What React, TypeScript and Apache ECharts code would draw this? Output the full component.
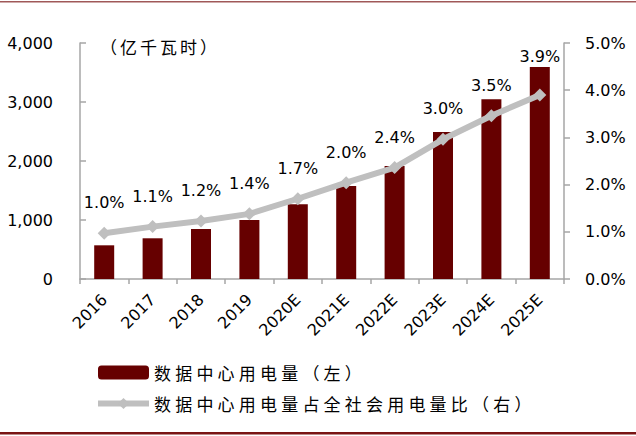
import React, { useEffect, useRef } from "react";
import * as echarts from "echarts";

const categories = ["2016", "2017", "2018", "2019", "2020E", "2021E", "2022E", "2023E", "2024E", "2025E"];
const powerUse = [571, 690, 847, 1000, 1266, 1576, 1915, 2491, 3045, 3593];
const shareOfTotal = [0.97, 1.11, 1.23, 1.38, 1.7, 2.04, 2.36, 2.96, 3.46, 3.9];
const leftTicks = [0, 1000, 2000, 3000, 4000];
const rightTicks = [0, 1, 2, 3, 4, 5];
const barName = "数据中心用电量（左）";
const lineName = "数据中心用电量占全社会用电量比（右）";
const unitLabel = "（亿千瓦时）";

const latin = "DejaVu Sans";
const cjk = "Noto Sans CJK SC";

export default function App() {
  const ref = useRef<HTMLDivElement>(null);
  useEffect(() => {
    const chart = echarts.init(ref.current!, null, { renderer: "svg" });
    const axisColor = "#A6A6A6";
    chart.setOption({
      animation: false,
      backgroundColor: "#fff",
      grid: { left: 80, right: 72, top: 43, bottom: 157, containLabel: false },
      legend: {
        orient: "vertical",
        left: 95,
        top: 364,
        padding: 0,
        itemWidth: 51,
        itemHeight: 14,
        itemGap: 14,
        textStyle: { fontFamily: cjk, fontSize: 17, color: "#000" },
        data: [
          { name: barName },
          { name: lineName, lineStyle: { width: 6, color: "#BFBFBF" } },
        ],
      },
      xAxis: {
        type: "category",
        data: categories,
        axisLine: { lineStyle: { color: axisColor, width: 1.5 } },
        axisTick: { show: true, length: 5, lineStyle: { color: axisColor, width: 1.5 } },
        axisLabel: { rotate: 45, fontFamily: latin, fontSize: 16, color: "#000", margin: 18 },
      },
      yAxis: [
        {
          type: "value",
          min: leftTicks[0],
          max: leftTicks[leftTicks.length - 1],
          interval: 1000,
          splitLine: { show: false },
          axisLine: { show: true, lineStyle: { color: axisColor, width: 1.5 } },
          axisTick: { show: true, inside: true, length: 6, lineStyle: { color: axisColor, width: 1.5 } },
          axisLabel: {
            fontFamily: latin,
            fontSize: 16,
            color: "#000",
            margin: 27,
            formatter: (v: number) => v.toLocaleString("en-US"),
          },
        },
        {
          type: "value",
          min: rightTicks[0],
          max: rightTicks[rightTicks.length - 1],
          interval: 1,
          splitLine: { show: false },
          axisLine: { show: true, lineStyle: { color: axisColor, width: 1.5 } },
          axisTick: { show: true, inside: false, length: 6, lineStyle: { color: axisColor, width: 1.5 } },
          axisLabel: {
            fontFamily: latin,
            fontSize: 16,
            color: "#000",
            margin: 21,
            formatter: (v: number) => v.toFixed(1) + "%",
          },
        },
      ],
      graphic: [
        {
          type: "text",
          left: 100,
          top: 38,
          style: { text: unitLabel, fontFamily: cjk, fontSize: 17, fill: "#000" },
        },
        { type: "rect", shape: { x: 0, y: 1, width: 636, height: 1.5 }, style: { fill: "#A05858" } },
        { type: "rect", shape: { x: 0, y: 432, width: 636, height: 2.5 }, style: { fill: "#7A1414" } },
      ],
      series: [
        {
          name: barName,
          type: "bar",
          data: powerUse,
          barWidth: 20,
          yAxisIndex: 0,
          itemStyle: { color: "#660000" },
        },
        {
          name: lineName,
          type: "line",
          yAxisIndex: 1,
          data: shareOfTotal.map((v, i) =>
            i === shareOfTotal.length - 1 ? { value: v, label: { distance: 24 } } : v
          ),
          symbol: "diamond",
          symbolSize: 13,
          lineStyle: { color: "#BFBFBF", width: 6 },
          itemStyle: { color: "#BFBFBF" },
          label: {
            show: true,
            position: "top",
            distance: 16,
            fontFamily: latin,
            fontSize: 16,
            color: "#000",
            formatter: (p: any) => Number(p.value).toFixed(1) + "%",
          },
        },
      ],
    });
    // widen the spacing of the Chinese texts, as in the reference
    const root = ref.current!;
    root.querySelectorAll("text").forEach((t) => {
      const s = t.textContent || "";
      if (s === barName || s === lineName) t.setAttribute("letter-spacing", "4.2px");
      else if (s === unitLabel) t.setAttribute("letter-spacing", "3px");
    });
    return () => chart.dispose();
  }, []);
  return (
    <div
      ref={ref}
      style={{ position: "fixed", left: 0, top: 0, width: 636, height: 436 }}
    />
  );
}
